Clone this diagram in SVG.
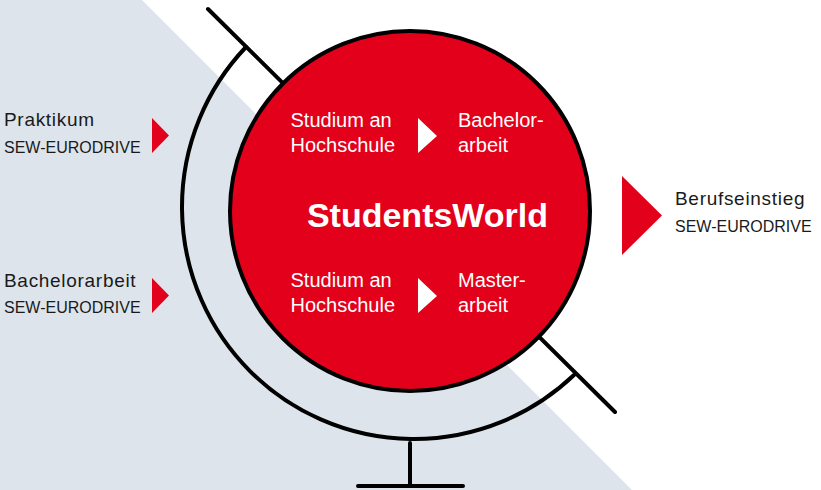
<svg xmlns="http://www.w3.org/2000/svg" width="821" height="490" viewBox="0 0 821 490">
<style>
.ln{fill:none;stroke:#000;stroke-width:4;stroke-linecap:round}
.lbl{font-family:"Liberation Sans",Arial,sans-serif;font-size:19px;letter-spacing:0.7px;fill:#1a1a1a}
.sub{font-family:"Liberation Sans",Arial,sans-serif;font-size:16px;fill:#1a1a1a}
.in{font-family:"Liberation Sans",Arial,sans-serif;font-size:20px;fill:#fff}
.title{font-family:"Liberation Sans",Arial,sans-serif;font-size:34px;font-weight:bold;fill:#fff}
.red{fill:#e2001a}
.wt{fill:#fff}
</style>
<rect width="821" height="490" fill="#fff"/>
<polygon points="0,0 142,0 632,490 0,490" fill="#dde4ec"/>
<g id="globe">
<line class="ln" x1="208" y1="9" x2="615" y2="412"/>
<path class="ln" d="M246 47 A232 232 0 0 0 574 375"/>
<line class="ln" x1="410" y1="443" x2="410" y2="486"/>
<line class="ln" x1="358" y1="486" x2="463" y2="486"/>
<circle cx="410" cy="211" r="180" fill="#e2001a" stroke="#000" stroke-width="4"/>
</g>
<g id="title"><text class="title" x="427.5" y="227" text-anchor="middle">StudentsWorld</text></g>
<g id="study1">
<text class="in" x="290.5" y="127">Studium an</text>
<text class="in" x="290.5" y="152">Hochschule</text>
</g>
<g id="bachelor">
<text class="in" x="458" y="127">Bachelor-</text>
<text class="in" x="458" y="152">arbeit</text>
</g>
<g id="study2">
<text class="in" x="290.5" y="287">Studium an</text>
<text class="in" x="290.5" y="312">Hochschule</text>
</g>
<g id="master">
<text class="in" x="458" y="287">Master-</text>
<text class="in" x="458" y="312">arbeit</text>
</g>
<g id="praktikum">
<text class="lbl" x="4" y="126">Praktikum</text>
<text class="sub" x="4" y="152.5">SEW-EURODRIVE</text>
</g>
<g id="bachelorarbeit">
<text class="lbl" x="4" y="287">Bachelorarbeit</text>
<text class="sub" x="4" y="312.5">SEW-EURODRIVE</text>
</g>
<g id="berufseinstieg">
<text class="lbl" x="675" y="205">Berufseinstieg</text>
<text class="sub" x="675" y="231.5">SEW-EURODRIVE</text>
</g>
<g id="connectors">
<polygon class="red" points="152,118 169,135.5 152,153"/>
<polygon class="red" points="152,278 169,295.5 152,313"/>
<polygon class="red" points="622,176 662,215.5 622,255"/>
<polygon class="wt" points="418,118 437,136 418,153"/>
<polygon class="wt" points="418,278 437,296 418,313"/>
</g>
</svg>
